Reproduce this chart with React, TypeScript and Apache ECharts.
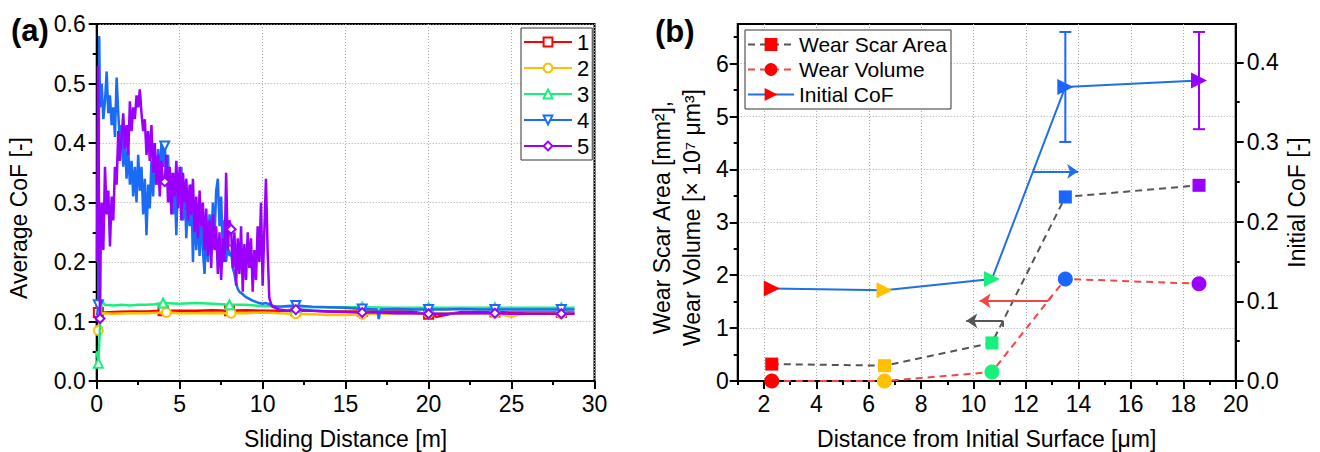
import React, { useEffect, useRef } from 'react';
import * as echarts from 'echarts';

// ---------- Panel (a) data ----------
const seriesNames = ['1', '2', '3', '4', '5'];
const seriesColors = ['#ff0000', '#ffc000', '#19f07c', '#1a6cf5', '#9b00ff'];
const seriesSymbols = ['emptyRect', 'emptyCircle', 'emptyTriangle', 'emptyTriangle', 'emptyDiamond'];
const seriesRotate = [0, 0, 0, 180, 0];

const cof1: number[][] = [[0.0, 0.11], [0.1, 0.115], [0.5, 0.115], [1, 0.116], [2, 0.117], [3, 0.117], [4, 0.118], [5, 0.118], [6, 0.118], [7, 0.119], [8, 0.118], [9, 0.119], [10, 0.118], [11, 0.118], [12, 0.118], [13, 0.118], [14, 0.117], [15, 0.117], [16, 0.117], [17, 0.117], [18, 0.117], [19, 0.117], [20, 0.112], [20.5, 0.108], [21, 0.111], [21.5, 0.114], [22, 0.116], [23, 0.116], [24, 0.116], [25, 0.115], [26, 0.115], [27, 0.115], [28, 0.115], [28.8, 0.115]];
const cof2: number[][] = [[0.0, 0.08], [0.1, 0.085], [0.2, 0.11], [0.3, 0.114], [1, 0.113], [2, 0.114], [3, 0.114], [4.2, 0.115], [5, 0.114], [6, 0.114], [7, 0.114], [8.1, 0.114], [9, 0.114], [10, 0.115], [11, 0.114], [12, 0.113], [13, 0.112], [14, 0.111], [15, 0.111], [16, 0.112], [17, 0.113], [18, 0.113], [19, 0.113], [20, 0.114], [22, 0.113], [24, 0.114], [25, 0.108], [25.5, 0.112], [26, 0.113], [28, 0.113], [28.8, 0.113]];
const cof3: number[][] = [[0.0, 0.05], [0.1, 0.03], [0.2, 0.09], [0.3, 0.135], [0.5, 0.128], [1, 0.127], [1.5, 0.128], [2, 0.127], [2.5, 0.128], [3, 0.128], [3.5, 0.129], [4, 0.131], [5, 0.13], [6, 0.131], [7, 0.13], [8, 0.128], [9, 0.128], [10, 0.126], [11, 0.125], [12, 0.124], [13, 0.124], [14, 0.124], [15, 0.124], [16, 0.124], [18, 0.123], [20, 0.123], [22, 0.123], [24, 0.123], [26, 0.123], [28, 0.123], [28.8, 0.123]];
const cof4: number[][] = [[0.02, 0.11], [0.1, 0.128], [0.15, 0.58], [0.2, 0.46], [0.3, 0.5], [0.4, 0.44], [0.5, 0.47], [0.6, 0.52], [0.7, 0.45], [0.8, 0.48], [0.9, 0.43], [1.0, 0.46], [1.1, 0.41], [1.2, 0.51], [1.3, 0.45], [1.4, 0.4], [1.5, 0.43], [1.6, 0.36], [1.7, 0.41], [1.8, 0.34], [1.9, 0.39], [2.0, 0.33], [2.1, 0.37], [2.2, 0.31], [2.3, 0.36], [2.4, 0.3], [2.5, 0.38], [2.6, 0.32], [2.7, 0.36], [2.8, 0.28], [2.9, 0.34], [3.0, 0.245], [3.1, 0.33], [3.2, 0.29], [3.3, 0.37], [3.4, 0.31], [3.5, 0.38], [3.6, 0.33], [3.7, 0.39], [3.8, 0.34], [3.9, 0.4], [4.0, 0.36], [4.1, 0.395], [4.2, 0.35], [4.3, 0.38], [4.4, 0.3], [4.5, 0.35], [4.6, 0.28], [4.7, 0.33], [4.8, 0.245], [4.9, 0.35], [5.0, 0.31], [5.1, 0.36], [5.2, 0.27], [5.3, 0.33], [5.4, 0.24], [5.5, 0.31], [5.6, 0.26], [5.7, 0.33], [5.8, 0.2], [5.9, 0.3], [6.0, 0.22], [6.1, 0.28], [6.2, 0.21], [6.3, 0.27], [6.4, 0.22], [6.5, 0.18], [6.6, 0.26], [6.7, 0.2], [6.8, 0.28], [6.9, 0.22], [7.0, 0.3], [7.1, 0.24], [7.2, 0.32], [7.3, 0.34], [7.4, 0.26], [7.5, 0.31], [7.6, 0.22], [7.7, 0.27], [7.8, 0.2], [7.9, 0.24], [8.0, 0.21], [8.1, 0.22], [8.2, 0.19], [8.3, 0.18], [8.4, 0.165], [8.5, 0.155], [8.6, 0.15], [8.7, 0.148], [8.8, 0.146], [8.9, 0.143], [9.0, 0.141], [9.2, 0.138], [9.4, 0.135], [9.6, 0.133], [9.8, 0.131], [10.0, 0.13], [10.2, 0.131], [10.4, 0.129], [10.6, 0.126], [11.0, 0.125], [11.5, 0.126], [12.0, 0.127], [13.0, 0.125], [14.0, 0.124], [15.0, 0.123], [16.0, 0.121], [16.9, 0.12], [17.0, 0.104], [17.1, 0.12], [18.0, 0.121], [19.0, 0.12], [20.0, 0.12], [21.0, 0.12], [22.0, 0.121], [23.0, 0.12], [24.0, 0.12], [25.0, 0.12], [26.0, 0.12], [27.0, 0.12], [28.0, 0.12], [28.8, 0.12]];
const cof5: number[][] = [[0.02, 0.2], [0.08, 0.53], [0.14, 0.29], [0.2, 0.105], [0.25, 0.26], [0.3, 0.3], [0.4, 0.22], [0.5, 0.36], [0.6, 0.28], [0.7, 0.32], [0.8, 0.226], [0.9, 0.31], [1.0, 0.27], [1.1, 0.36], [1.2, 0.33], [1.3, 0.42], [1.4, 0.37], [1.5, 0.41], [1.6, 0.45], [1.7, 0.39], [1.8, 0.43], [1.9, 0.38], [2.0, 0.47], [2.1, 0.42], [2.2, 0.46], [2.3, 0.44], [2.4, 0.48], [2.5, 0.46], [2.6, 0.49], [2.7, 0.45], [2.8, 0.42], [2.9, 0.44], [3.0, 0.38], [3.1, 0.42], [3.2, 0.37], [3.3, 0.43], [3.4, 0.35], [3.5, 0.4], [3.6, 0.33], [3.7, 0.38], [3.8, 0.31], [3.9, 0.37], [4.0, 0.33], [4.1, 0.335], [4.2, 0.38], [4.3, 0.3], [4.4, 0.36], [4.5, 0.28], [4.6, 0.35], [4.7, 0.31], [4.8, 0.37], [4.9, 0.29], [5.0, 0.36], [5.1, 0.27], [5.2, 0.35], [5.3, 0.3], [5.4, 0.34], [5.5, 0.27], [5.6, 0.33], [5.7, 0.28], [5.8, 0.34], [5.9, 0.25], [6.0, 0.31], [6.1, 0.24], [6.2, 0.32], [6.3, 0.26], [6.4, 0.3], [6.5, 0.22], [6.6, 0.29], [6.7, 0.21], [6.8, 0.27], [6.9, 0.19], [7.0, 0.28], [7.1, 0.22], [7.2, 0.26], [7.3, 0.18], [7.4, 0.25], [7.5, 0.17], [7.6, 0.24], [7.7, 0.2], [7.8, 0.35], [7.9, 0.22], [8.0, 0.27], [8.1, 0.255], [8.2, 0.19], [8.3, 0.25], [8.4, 0.16], [8.5, 0.24], [8.6, 0.18], [8.7, 0.26], [8.8, 0.15], [8.9, 0.23], [9.0, 0.17], [9.1, 0.25], [9.2, 0.19], [9.3, 0.24], [9.4, 0.15], [9.5, 0.22], [9.6, 0.17], [9.7, 0.26], [9.8, 0.2], [9.9, 0.3], [10.0, 0.16], [10.1, 0.25], [10.2, 0.34], [10.3, 0.22], [10.4, 0.14], [10.5, 0.13], [10.6, 0.125], [11.0, 0.12], [11.5, 0.118], [12.0, 0.12], [13.0, 0.118], [14.0, 0.117], [15.0, 0.116], [16.0, 0.115], [17.0, 0.115], [18.0, 0.114], [19.0, 0.114], [20.0, 0.113], [21.0, 0.113], [22.0, 0.114], [23.0, 0.114], [24.0, 0.114], [25.0, 0.113], [26.0, 0.113], [27.0, 0.113], [28.0, 0.113], [28.8, 0.113]];
const cofSeries = [cof1, cof2, cof3, cof4, cof5];
const markerX = [
  [0.1, 4, 8, 12, 16, 20, 24, 28],
  [0.1, 4.2, 8.1, 12, 16, 20, 24, 28],
  [0.1, 4, 8, 12, 16, 20, 24, 28],
  [0.1, 4.1, 8.1, 12, 16, 20, 24, 28],
  [0.2, 4.1, 8.1, 12, 16, 20, 24, 28],
];
const xTicksA = [0, 5, 10, 15, 20, 25, 30];

// ---------- Panel (b) data ----------
const distance = [2.3, 6.6, 10.7, 13.5, 18.6];
const wearScarArea = [0.32, 0.29, 0.72, 3.48, 3.7];
const wearVolume = [0.0, 0.0, 0.17, 1.93, 1.84];
const initialCoF = [0.116, 0.114, 0.128, 0.369, 0.377];
const initialCoFErr = [0, 0, 0, 0.069, 0.061];
const pointColors = ['#ff0000', '#ffc000', '#19f07c', '#1a66ff', '#9900ff'];
const xTicksB = [2, 4, 6, 8, 10, 12, 14, 16, 18, 20];
const xMinorTicksB = [1, 3, 5, 7, 9, 11, 13, 15, 17, 19];
const yTicksB = [0, 1, 2, 3, 4, 5, 6];
const yMinorTicksB = [0.5, 1.5, 2.5, 3.5, 4.5, 5.5, 6.5];
const yTicksCoF = [0, 0.1, 0.2, 0.3, 0.4];
const yMinorTicksCoF = [0.05, 0.15, 0.25, 0.35];
// annotation arrows (data coordinates)
const arrowCoF = [[12.27, 0.263], [13.99, 0.263]];
const arrowVolume = [[12.98, 1.6], [12.85, 1.515], [10.23, 1.515]];
const arrowArea = [[11.11, 1.025], [11.11, 1.137], [9.72, 1.137]];

const FONT = 'Liberation Sans, Arial, sans-serif';

export default function App() {
  const ref = useRef<HTMLDivElement>(null);
  useEffect(() => {
    if (!ref.current) return;
    const chart = echarts.init(ref.current, undefined, { renderer: 'svg' });
    const splitStyle = { show: true, lineStyle: { color: '#aaa', width: 1, type: [1, 2] } };
    const axisLineStyle = { show: true, lineStyle: { color: '#000', width: 2 } };
    const labelStyle = { color: '#000', fontSize: 23, fontFamily: FONT };
    const nameStyle = { color: '#000', fontSize: 23, fontFamily: FONT };

    const leftSeries = cofSeries.map((arr, si) => ({
      type: 'line',
      name: seriesNames[si],
      xAxisIndex: 0,
      yAxisIndex: 0,
      symbol: seriesSymbols[si],
      symbolRotate: seriesRotate[si],
      symbolSize: 9,
      showSymbol: true,
      lineStyle: { color: seriesColors[si], width: 2.5 },
      itemStyle: { color: seriesColors[si], borderWidth: 2 },
      emphasis: { disabled: true },
      z: 2 + si,
      data: arr.map((p) =>
        markerX[si].includes(p[0]) ? { value: p } : { value: p, symbol: 'none' }
      ),
    }));

    const mkArrow = (pts: number[][]) => {
      const segs: any[] = [];
      for (let i = 0; i < pts.length - 1; i++) {
        segs.push([
          { coord: pts[i], symbol: 'none' },
          { coord: pts[i + 1], symbol: i === pts.length - 2 ? 'arrow' : 'none' },
        ]);
      }
      return segs;
    };

    const option: any = {
      animation: false,
      textStyle: { fontFamily: FONT },
      grid: [
        { left: 96.7, top: 24, right: 725.5, bottom: 71, outerBoundsMode: 'none', containLabel: false, show: true, borderColor: '#000', borderWidth: 2, backgroundColor: 'transparent' },
        { left: 737.7, top: 24, right: 84.3, bottom: 71, outerBoundsMode: 'none', containLabel: false, show: true, borderColor: '#000', borderWidth: 2, backgroundColor: 'transparent' },
      ],
      xAxis: [
        {
          type: 'value', gridIndex: 0, min: 0, max: 30, interval: 5,
          name: 'Sliding Distance [m]', nameLocation: 'middle', nameGap: 46, nameTextStyle: nameStyle,
          axisLine: axisLineStyle,
          axisTick: { show: true, length: 8, lineStyle: { color: '#000', width: 2 } },
          minorTick: { show: true, splitNumber: 2, length: 4, lineStyle: { color: '#000', width: 2 } },
          axisLabel: { ...labelStyle, margin: 11, customValues: xTicksA },
          splitLine: splitStyle,
        },
        {
          type: 'value', gridIndex: 1, min: 1, max: 20, splitNumber: 10,
          name: 'Distance from Initial Surface [μm]', nameLocation: 'middle', nameGap: 46, nameTextStyle: nameStyle,
          axisLine: axisLineStyle,
          axisTick: { show: true, length: 8, lineStyle: { color: '#000', width: 2 }, customValues: xTicksB },
          axisLabel: { ...labelStyle, margin: 11, customValues: xTicksB },
          splitLine: splitStyle,
        },
        {
          type: 'value', gridIndex: 1, min: 1, max: 20, position: 'bottom',
          axisLine: { show: false },
          axisTick: { show: true, length: 4, lineStyle: { color: '#000', width: 2 }, customValues: xMinorTicksB },
          axisLabel: { show: false },
          splitLine: { show: false },
        },
      ],
      yAxis: [
        {
          type: 'value', gridIndex: 0, min: 0, max: 0.6, interval: 0.1,
          name: 'Average CoF [-]', nameLocation: 'middle', nameGap: 66, nameRotate: 90,
          nameTextStyle: { ...nameStyle, padding: [0, 31, 0, 0] },
          axisLine: axisLineStyle,
          axisTick: { show: true, length: 8, lineStyle: { color: '#000', width: 2 } },
          minorTick: { show: true, splitNumber: 2, length: 4, lineStyle: { color: '#000', width: 2 } },
          axisLabel: { ...labelStyle, margin: 11, formatter: (v: number) => v.toFixed(1) },
          splitLine: splitStyle,
        },
        {
          type: 'value', gridIndex: 1, min: 0, max: 6.75, interval: 1, position: 'left',
          name: 'Wear Scar Area [mm²],\nWear Volume [× 10⁷ μm³]', nameLocation: 'middle', nameGap: 31, nameRotate: 90,
          nameTextStyle: { ...nameStyle, lineHeight: 30, padding: [0, 30, 0, 0] },
          axisLine: axisLineStyle,
          axisTick: { show: true, length: 8, lineStyle: { color: '#000', width: 2 }, customValues: yTicksB },
          axisLabel: { ...labelStyle, margin: 9, customValues: yTicksB },
          splitLine: splitStyle,
        },
        {
          type: 'value', gridIndex: 1, min: 0, max: 6.75, position: 'left',
          axisLine: { show: false },
          axisTick: { show: true, length: 4, lineStyle: { color: '#000', width: 2 }, customValues: yMinorTicksB },
          axisLabel: { show: false },
          splitLine: { show: false },
        },
        {
          type: 'value', gridIndex: 1, min: 0, max: 0.448, interval: 0.1, position: 'right',
          name: 'Initial CoF [-]', nameLocation: 'middle', nameGap: 50, nameRotate: 90, nameTextStyle: nameStyle,
          axisLine: axisLineStyle,
          axisTick: { show: true, length: 8, lineStyle: { color: '#000', width: 2 }, customValues: yTicksCoF },
          axisLabel: { ...labelStyle, margin: 11, customValues: yTicksCoF, formatter: (v: number) => v.toFixed(1) },
          splitLine: { show: false },
        },
        {
          type: 'value', gridIndex: 1, min: 0, max: 0.448, position: 'right',
          axisLine: { show: false },
          axisTick: { show: true, length: 4, lineStyle: { color: '#000', width: 2 }, customValues: yMinorTicksCoF },
          axisLabel: { show: false },
          splitLine: { show: false },
        },
      ],
      legend: [
        {
          data: seriesNames, orient: 'vertical', left: 521, top: 28,
          itemWidth: 48, itemHeight: 11, itemGap: 4,
          textStyle: { color: '#000', fontSize: 22, fontFamily: FONT },
          borderColor: '#333', borderWidth: 1, borderRadius: 0, padding: [3, 3, 3, 2],
          backgroundColor: '#fff', selectedMode: false,
        },
        {
          data: ['Wear Scar Area', 'Wear Volume', 'Initial CoF'], orient: 'vertical', left: 745, top: 30,
          itemWidth: 46, itemHeight: 16, itemGap: 4,
          textStyle: { color: '#000', fontSize: 21, fontFamily: FONT },
          borderColor: '#333', borderWidth: 1, borderRadius: 0, padding: [4, 3, 4, 2],
          backgroundColor: '#fff', selectedMode: false,
        },
      ],
      graphic: [
        { type: 'text', left: 11, top: 15, style: { text: '(a)', font: 'bold 31px ' + FONT, fill: '#000' } },
        { type: 'text', left: 655, top: 16, style: { text: '(b)', font: 'bold 31px ' + FONT, fill: '#000' } },
      ],
      series: [
        ...leftSeries,
        {
          type: 'custom', name: 'errorbars', xAxisIndex: 1, yAxisIndex: 3, z: 1,
          data: distance
            .map((d, i) => [d, initialCoF[i] - initialCoFErr[i], initialCoF[i] + initialCoFErr[i], i])
            .filter((r, i) => initialCoFErr[i] > 0),
          encode: { x: 0, y: [1, 2] },
          renderItem: (params: any, api: any) => {
            const x = api.value(0);
            const lo = api.coord([x, api.value(1)]);
            const hi = api.coord([x, api.value(2)]);
            const color = pointColors[api.value(3)];
            const w = 6;
            const st = { stroke: color, lineWidth: 2 };
            return {
              type: 'group',
              children: [
                { type: 'line', shape: { x1: lo[0], y1: lo[1], x2: hi[0], y2: hi[1] }, style: st },
                { type: 'line', shape: { x1: lo[0] - w, y1: lo[1], x2: lo[0] + w, y2: lo[1] }, style: st },
                { type: 'line', shape: { x1: hi[0] - w, y1: hi[1], x2: hi[0] + w, y2: hi[1] }, style: st },
              ],
            };
          },
        },
        {
          type: 'line', name: 'Wear Scar Area', xAxisIndex: 1, yAxisIndex: 1, z: 3,
          symbol: 'rect', symbolSize: 13,
          lineStyle: { color: '#555', width: 2, type: [7, 5] },
          itemStyle: { color: '#ff0000' },
          emphasis: { disabled: true },
          data: distance.map((d, i) => ({ value: [d, wearScarArea[i]], itemStyle: { color: pointColors[i] } })),
          markLine: {
            silent: true, symbolSize: 11, label: { show: false },
            lineStyle: { color: '#555', width: 2, type: 'solid' },
            data: mkArrow(arrowArea),
          },
        },
        {
          type: 'line', name: 'Wear Volume', xAxisIndex: 1, yAxisIndex: 1, z: 3,
          symbol: 'circle', symbolSize: 15,
          lineStyle: { color: '#f04848', width: 2, type: [7, 5] },
          itemStyle: { color: '#ff0000' },
          emphasis: { disabled: true },
          data: distance.map((d, i) => ({ value: [d, wearVolume[i]], itemStyle: { color: pointColors[i] } })),
          markLine: {
            silent: true, symbolSize: 11, label: { show: false },
            lineStyle: { color: '#f04848', width: 2, type: 'solid' },
            data: mkArrow(arrowVolume),
          },
        },
        {
          type: 'line', name: 'Initial CoF', xAxisIndex: 1, yAxisIndex: 3, z: 4,
          symbol: 'triangle', symbolRotate: -90, symbolSize: 16,
          lineStyle: { color: '#1e6fe8', width: 2 },
          itemStyle: { color: '#ff0000' },
          emphasis: { disabled: true },
          data: distance.map((d, i) => ({ value: [d, initialCoF[i]], itemStyle: { color: pointColors[i] } })),
          markLine: {
            silent: true, symbolSize: 11, label: { show: false },
            lineStyle: { color: '#1e6fe8', width: 2, type: 'solid' },
            data: mkArrow(arrowCoF),
          },
        },
      ],
    };
    chart.setOption(option);
    return () => chart.dispose();
  }, []);
  return <div ref={ref} style={{ position: 'absolute', left: 0, top: 0, width: 1320, height: 452, background: '#fff' }} />;
}
